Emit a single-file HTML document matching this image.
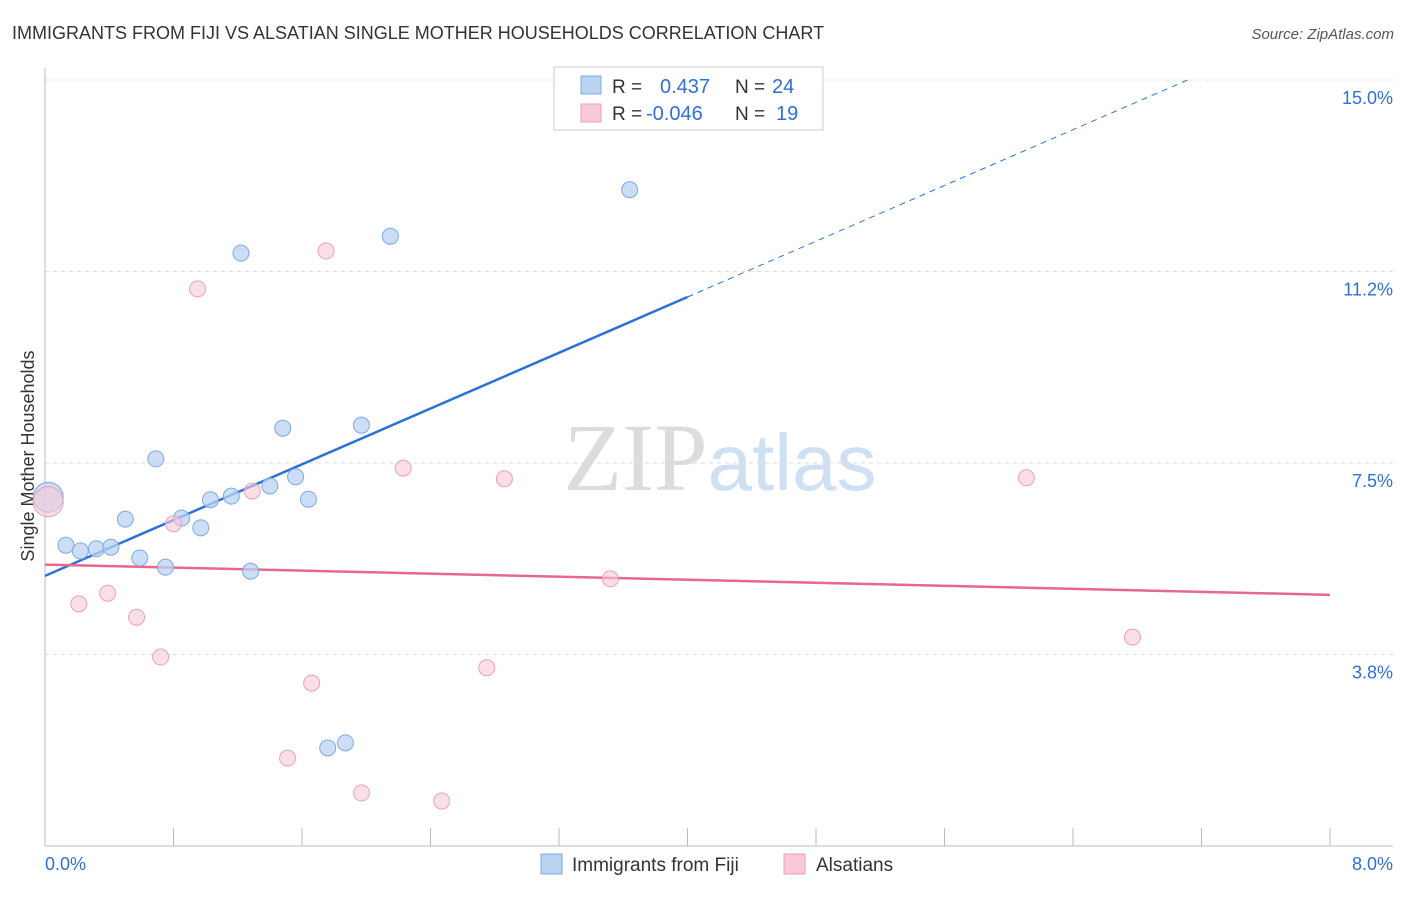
<!DOCTYPE html>
<html><head><meta charset="utf-8"><style>
body{margin:0;background:#fff;font-family:"Liberation Sans",sans-serif;}
</style></head><body>
<svg id="chart" width="1406" height="892" xmlns="http://www.w3.org/2000/svg" font-family="Liberation Sans, sans-serif">
<text x="12" y="39" font-size="18" fill="#333">IMMIGRANTS FROM FIJI VS ALSATIAN SINGLE MOTHER HOUSEHOLDS CORRELATION CHART</text>
<text x="1394" y="39" font-size="15" fill="#555" font-style="italic" text-anchor="end">Source: ZipAtlas.com</text>
<text x="720" y="490" font-size="96" text-anchor="middle"><tspan fill="#dcdcdc" font-family="Liberation Serif, serif">ZIP</tspan><tspan fill="#cfe0f3" font-size="80">atlas</tspan></text>
<g id="grid"></g>
<g id="axes"></g>
<text transform="translate(34,456) rotate(-90)" font-size="18" fill="#333" text-anchor="middle">Single Mother Households</text>
<g id="trends"></g>
<g id="points"></g>
<g>
<rect x="554" y="67" width="269" height="63" fill="#fff" stroke="#ccc"/>
<rect x="581" y="76" width="20" height="18" fill="#b9d3f3" stroke="#7ea9e0"/>
<rect x="581" y="104" width="20" height="18" fill="#f9c9d7" stroke="#eba1b8"/>
<text x="612" y="93" font-size="19" fill="#333">R =</text>
<text x="660" y="93" font-size="20" fill="#2f6fd6">0.437</text>
<text x="735" y="93" font-size="19" fill="#333">N =</text>
<text x="772" y="93" font-size="20" fill="#2f6fd6">24</text>
<text x="612" y="120" font-size="19" fill="#333">R =</text>
<text x="646" y="120" font-size="20" fill="#2f6fd6">-0.046</text>
<text x="735" y="120" font-size="19" fill="#333">N =</text>
<text x="776" y="120" font-size="20" fill="#2f6fd6">19</text>
</g>
<g>
<rect x="541" y="854" width="21" height="20" fill="#b9d3f3" stroke="#7ea9e0"/>
<text x="572" y="871" font-size="19" fill="#333">Immigrants from Fiji</text>
<rect x="784" y="854" width="21" height="20" fill="#f9c9d7" stroke="#eba1b8"/>
<text x="816" y="871" font-size="19" fill="#333">Alsatians</text>
</g>
</svg>
<script>
const yTicks=[3.8,7.5,11.2,15.0];
const yTickPos=[3.75,7.5,11.25,15.0];
const xTickLabels=["0.0%","8.0%"];
const fijiX=[0.02,0.13,0.22,0.32,0.41,0.50,0.59,0.69,0.75,0.85,0.97,1.03,1.16,1.22,1.28,1.40,1.48,1.56,1.64,1.76,1.87,1.97,2.15,3.64];
const fijiY=[6.83,5.89,5.78,5.82,5.85,6.40,5.64,7.58,5.46,6.42,6.23,6.78,6.85,11.61,5.38,7.05,8.18,7.23,6.79,1.92,2.02,8.24,11.94,12.85];
const alsX=[0.02,0.21,0.39,0.57,0.72,0.80,0.95,1.29,1.51,1.66,1.75,1.97,2.23,2.47,2.75,2.86,3.52,6.11,6.77];
const alsY=[6.74,4.74,4.95,4.48,3.70,6.31,10.91,6.95,1.72,3.19,11.65,1.04,7.40,0.88,3.49,7.19,5.23,7.21,4.09];
const fijiTrend=[5.29,1.365];
const alsTrend=[5.51,-0.074];
const X0=45,X1=1330,Y0=846,PY=51.07;
const sx=v=>X0+v/8*(X1-X0);
const sy=v=>Y0-v*PY;
const NS="http://www.w3.org/2000/svg";
function mk(t,a,p){const e=document.createElementNS(NS,t);for(const k in a)e.setAttribute(k,a[k]);p.appendChild(e);return e;}
const grid=document.getElementById('grid'),axes=document.getElementById('axes'),trends=document.getElementById('trends'),pts=document.getElementById('points');
yTickPos.forEach((v,i)=>{
 const l=mk('line',{x1:X0,x2:1393,y1:sy(v),y2:sy(v),stroke:'#ddd','stroke-dasharray':'4,4'},grid);
 
 
 const t=mk('text',{x:1393,y:sy(v)+24,'font-size':18,fill:'#2f6fd6','text-anchor':'end'},grid);
 t.textContent=yTicks[i].toFixed(1)+'%';
 
 
});
const ya=mk('line',{x1:X0,x2:X0,y1:68,y2:Y0,stroke:'#bbb'},axes);


const xa=mk('line',{x1:X0,x2:1393,y1:Y0,y2:Y0,stroke:'#bbb'},axes);


for(let i=0;i<=10;i++){
 const t=mk('line',{x1:sx(i*0.8),x2:sx(i*0.8),y1:828,y2:Y0,stroke:'#bbb'},axes);
 
 
}
[[0,'start',45],[1,'end',1393]].forEach(([i,a,x])=>{
 const t=mk('text',{x:x,y:870,'font-size':18,fill:'#2f6fd6','text-anchor':a},axes);
 t.textContent=xTickLabels[i];
 
 
});
const fy=x=>fijiTrend[0]+fijiTrend[1]*x, ay=x=>alsTrend[0]+alsTrend[1]*x;
const b1=mk('line',{x1:sx(0),y1:sy(fy(0)),x2:sx(4),y2:sy(fy(4)),stroke:'#2b72d8','stroke-width':2.5},trends);


const xe=(15.0-fijiTrend[0])/fijiTrend[1];
const b2=mk('line',{x1:sx(4),y1:sy(fy(4)),x2:sx(xe),y2:sy(fy(xe)),stroke:'#2b72d8','stroke-width':1,'stroke-dasharray':'6,5'},trends);


const p1=mk('line',{x1:sx(0),y1:sy(ay(0)),x2:sx(8),y2:sy(ay(8)),stroke:'#e8678f','stroke-width':2.5},trends);


fijiX.forEach((x,i)=>{
 const c=mk('circle',{cx:sx(x),cy:sy(fijiY[i]),r:i==0?15:8,fill:'#b9d3f3','fill-opacity':0.75,stroke:'#7ea9e0'},pts);
 
 
});
alsX.forEach((x,i)=>{
 const c=mk('circle',{cx:sx(x),cy:sy(alsY[i]),r:i==0?15:8,fill:'#f9c9d7','fill-opacity':0.6,stroke:'#eba1b8'},pts);
 
 
});
</script>
</body></html>
